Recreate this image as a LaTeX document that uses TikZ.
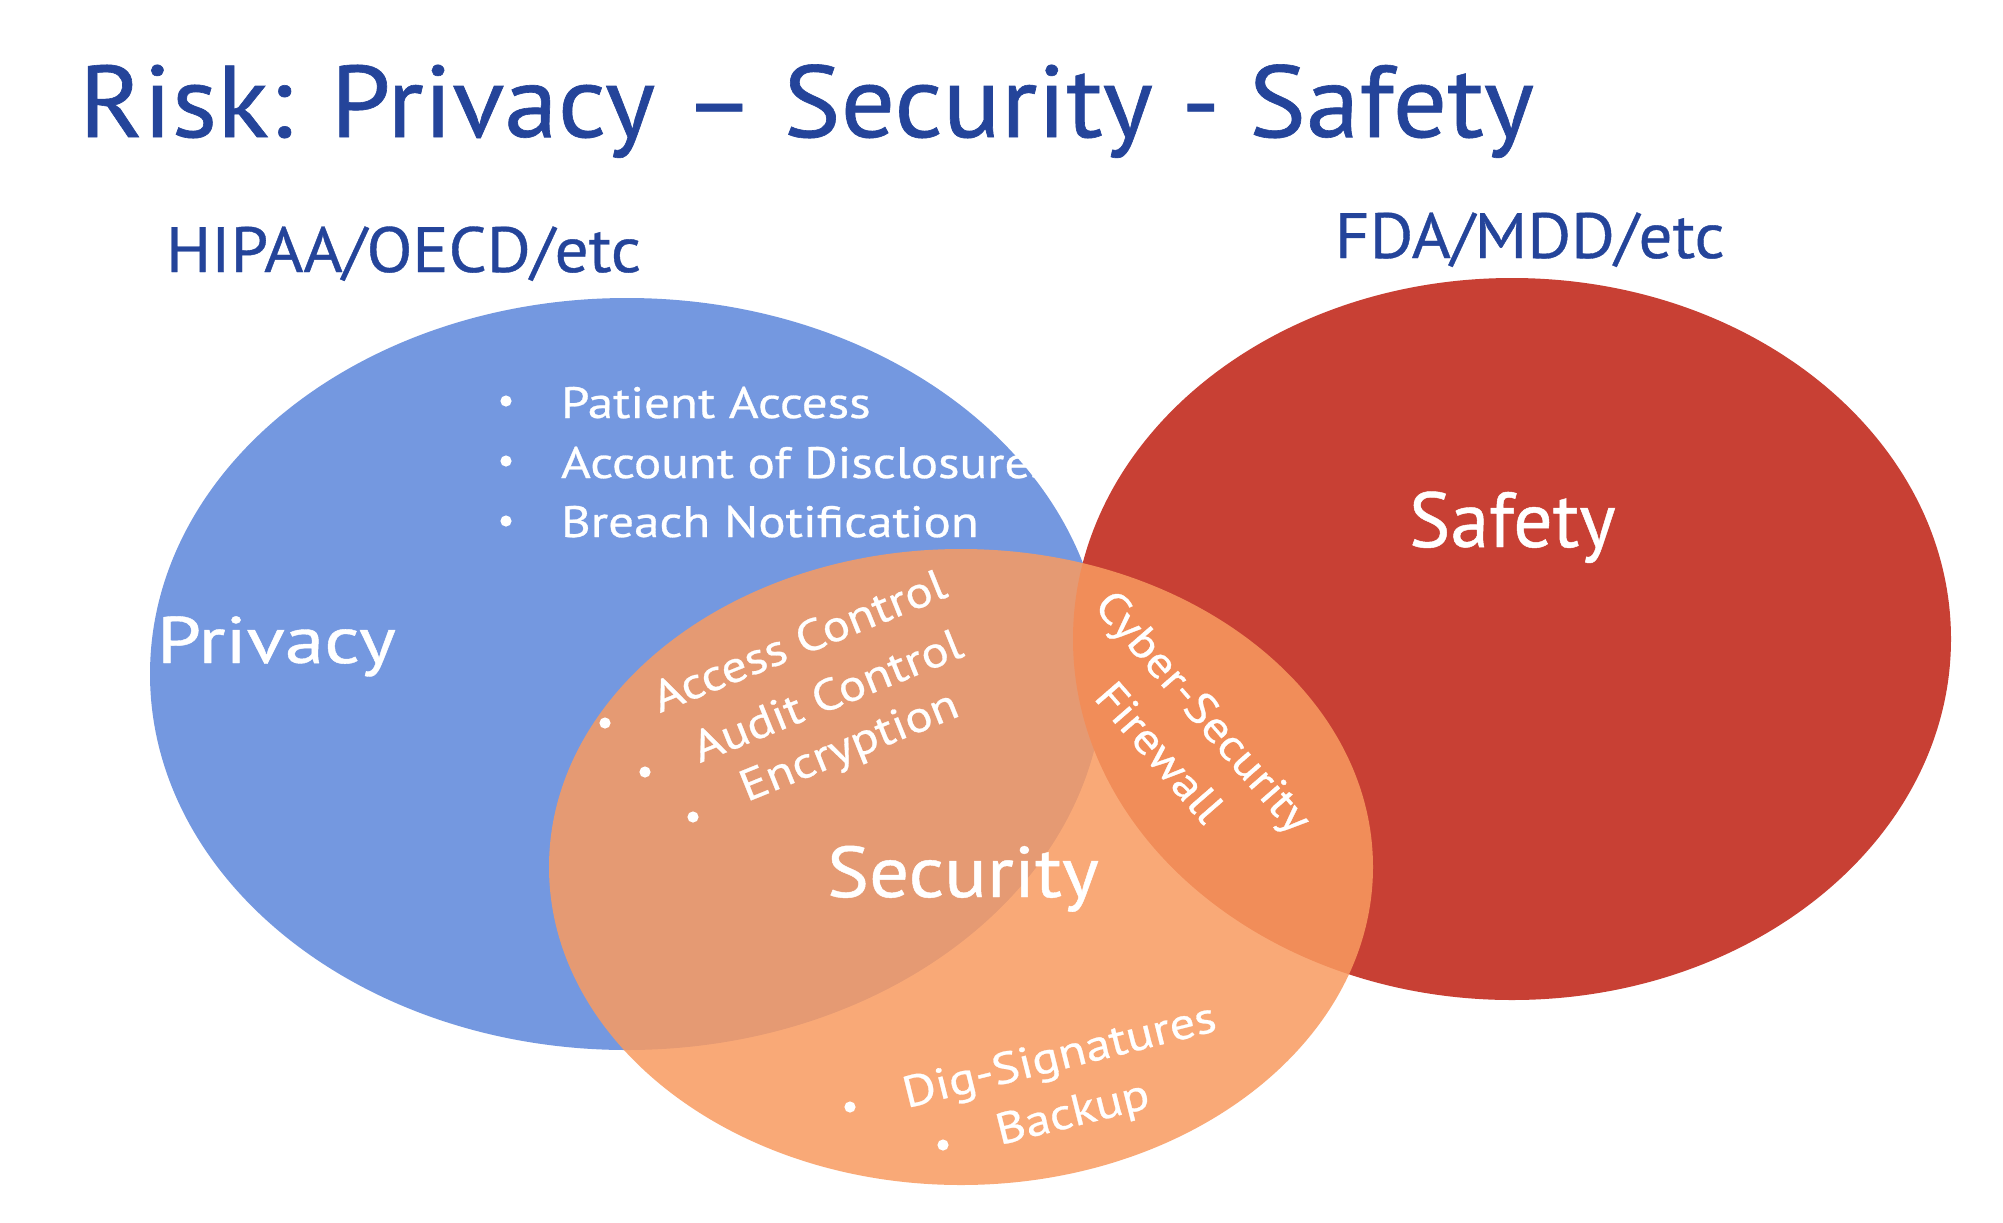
\documentclass[tikz,border=0pt]{standalone}
\usepackage{graphicx}
\usepackage{fontspec}
\setmainfont{PT Sans}[FakeBold=0.6]
\definecolor{privblue}{RGB}{116,152,224}
\definecolor{safered}{RGB}{200,64,52}
\definecolor{secorange}{RGB}{249,155,96}
\definecolor{titleblue}{RGB}{36,68,154}
\newcommand{\fsz}[1]{\fontsize{#1}{#1}\selectfont}
\newcommand{\sx}[2]{\scalebox{#1}[1]{#2}}
\begin{document}
\begin{tikzpicture}[x=0.5pt,y=-0.5pt,
  lbl/.style={inner sep=0pt, outer sep=0pt, text=white, anchor=base west},
  hdr/.style={inner sep=0pt, outer sep=0pt, text=titleblue, anchor=base west},
  dot/.style={fill=white}]
\useasboundingbox (0,0) rectangle (2003,1222);
\fill[white] (0,0) rectangle (2003,1222);
% circles
\fill[privblue] (627,674) ellipse [x radius=238.5pt, y radius=188pt];
\fill[safered] (1512,639) ellipse [x radius=219.5pt, y radius=180.5pt];
\fill[secorange, fill opacity=0.85] (961,867) ellipse [x radius=206pt, y radius=159pt];
% headings
\node[hdr, font=\fsz{51}] (title) at (79,137) {\sx{1.055}{Risk: Privacy – Security - Safety}};
\node[hdr, font=\fsz{32}] (hipaa) at (166,272) {\sx{1.05}{HIPAA/OECD/etc}};
\node[hdr, font=\fsz{32}] (fda) at (1335,258) {\sx{1.045}{FDA/MDD/etc}};
% main labels
\node[lbl, font=\fsz{33}] (privacy) at (157,663) {\sx{1.2}{Privacy}};
\node[lbl, font=\fsz{39}] (safety) at (1409,547) {Safety};
\node[lbl, font=\fsz{36}] (security) at (827,897) {\sx{1.1}{Security}};
% privacy list
\node[lbl, font=\fsz{22}] (pa) at (561,418) {\sx{1.16}{Patient Access}};
\node[lbl, font=\fsz{22}] (ad) at (561,478) {\sx{1.16}{Account of Disclosures}};
\node[lbl, font=\fsz{22}] (bn) at (561,537) {\sx{1.16}{Breach Notification}};
\fill[dot] (506,401) circle (2.8pt);
\fill[dot] (506,461) circle (2.8pt);
\fill[dot] (506,521) circle (2.8pt);
% security list (privacy overlap)
\node[lbl, font=\fsz{22}, rotate=22] (ac) at (660,713) {\sx{1.15}{Access Control}};
\node[lbl, font=\fsz{22}, rotate=22] (au) at (700,763) {\sx{1.15}{Audit Control}};
\node[lbl, font=\fsz{22}, rotate=22] (en) at (747,802) {\sx{1.15}{Encryption}};
\fill[dot] (605,723) circle (2.8pt);
\fill[dot] (645,772) circle (2.8pt);
\fill[dot] (693,817) circle (2.8pt);
% safety overlap
\node[lbl, font=\fsz{22}, rotate=-49, anchor=center] (cyber) at (1201,714) {\sx{1.12}{Cyber-Security}};
\node[lbl, font=\fsz{22}, rotate=-49, anchor=center] (fw) at (1160,752) {\sx{1.12}{Firewall}};
% security only
\node[lbl, font=\fsz{22}, rotate=14] (dig) at (907,1108) {\sx{1.15}{Dig-Signatures}};
\node[lbl, font=\fsz{22}, rotate=14] (bk) at (1000,1145) {\sx{1.15}{Backup}};
\fill[dot] (850,1107) circle (2.8pt);
\fill[dot] (943,1145) circle (2.8pt);
\end{tikzpicture}
\end{document}
